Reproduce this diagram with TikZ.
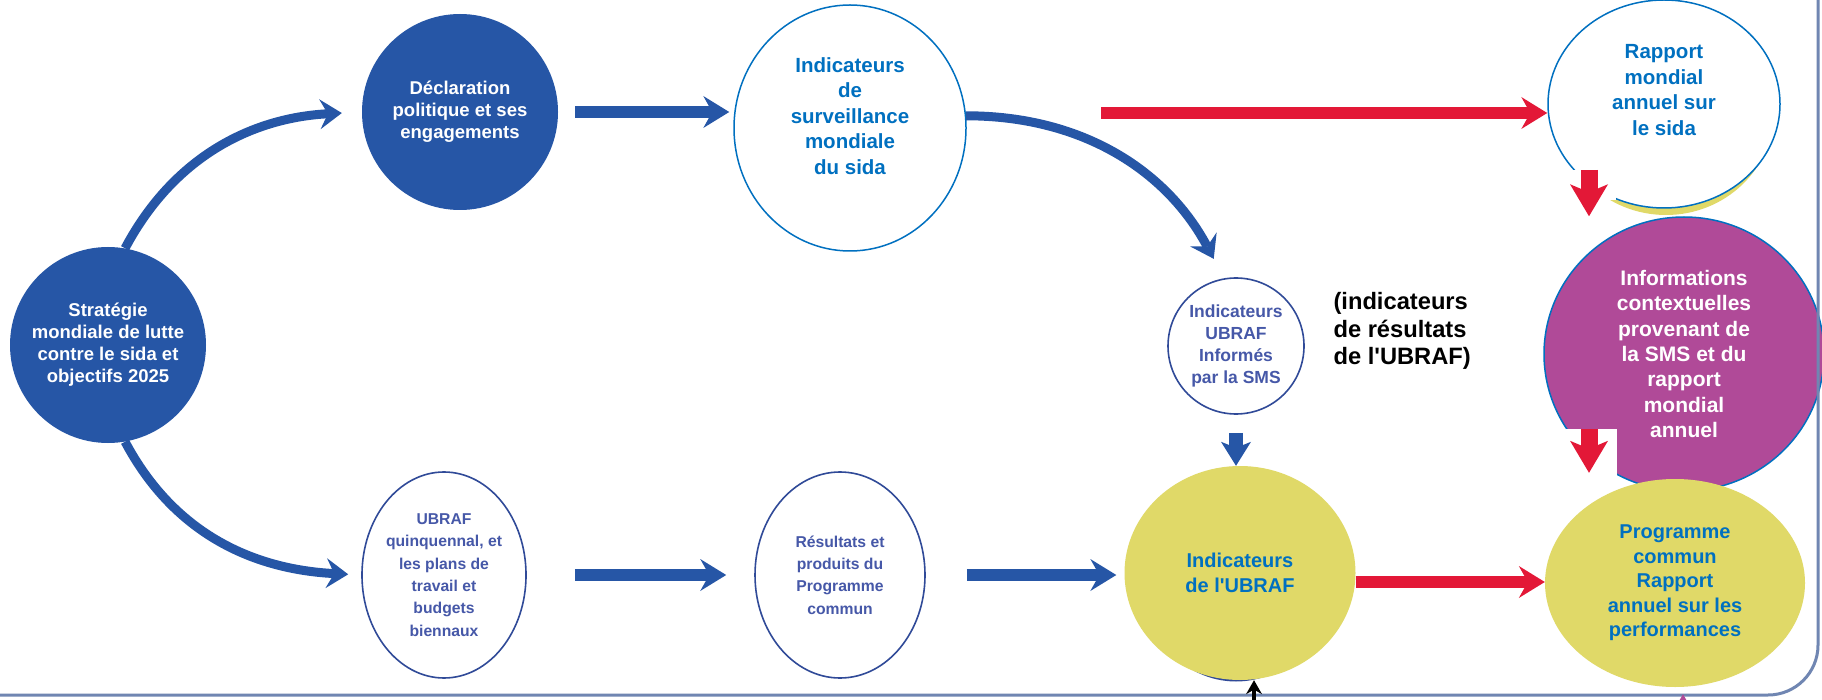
\documentclass[tikz,border=0pt]{standalone}
\usepackage{fontspec}
\setmainfont{Liberation Sans}
\usetikzlibrary{arrows.meta,calc,shapes.geometric}
\definecolor{bluscuro}{RGB}{38,86,166}
\definecolor{azzurro}{RGB}{0,112,192}
\definecolor{rosso}{RGB}{227,24,55}
\definecolor{giallo}{RGB}{224,217,104}
\definecolor{viola}{RGB}{176,74,152}
\definecolor{pervinca}{RGB}{70,88,168}
\definecolor{bordo}{RGB}{48,74,152}
\definecolor{cornice}{RGB}{112,134,178}
\tikzset{
>=Stealth,
nodo scuro/.style={circle,inner sep=0pt,minimum size=196pt,fill=bluscuro,text=white,align=center,font=\bfseries\fontsize{18.5}{22}\selectfont},
nodo vuoto/.style={ellipse,inner sep=0pt,draw=bordo,line width=1.6pt,fill=white,text=pervinca,align=center,font=\bfseries\fontsize{15.7}{22.3}\selectfont},
nodo blu/.style={ellipse,inner sep=0pt,draw=azzurro,line width=1.5pt,fill=white},
nodo giallo/.style={ellipse,inner sep=0pt,fill=giallo,text=azzurro,align=center,font=\bfseries\fontsize{20}{24.5}\selectfont},
nodo viola/.style={ellipse,inner sep=0pt,fill=viola,draw=azzurro,line width=1.5pt,text=white,align=center,font=\bfseries\fontsize{21}{25.3}\selectfont},
testo blu/.style={text=azzurro,align=center,font=\bfseries\fontsize{20.5}{25.5}\selectfont},
freccia/.style={-{Stealth[length=26pt,width=32pt,inset=9pt,line width=0pt]},line width=12pt},
curva/.style={-{Stealth[length=22pt,width=30pt,inset=8pt,line width=0pt]},line width=9pt,bluscuro},
freccia giu/.style={-{Stealth[length=24pt,width=30pt,inset=6pt,line width=0pt]},line width=14pt},
freccia rossa giu/.style={-{Stealth[length=32pt,width=38pt,inset=8pt,line width=0pt]},line width=17pt,rosso},
freccina/.style={-{Stealth[length=14pt,width=16pt,line width=0pt]},line width=4pt}}

\begin{document}
\begin{tikzpicture}[x=1pt,y=1pt]

\fill[white] (0,0) rectangle (1822,-700);
\useasboundingbox (0,0) rectangle (1822,-700);

\fill[giallo] (1666,-111) ellipse [x radius=108,y radius=104];
\fill[bordo] (1236,-574.5) ellipse [x radius=96,y radius=107];

\node[nodo scuro] (1) at (108,-345) {Stratégie\\mondiale de lutte\\contre le sida et\\objectifs 2025};
\node[nodo scuro] (2) at (460,-112) {Déclaration\\politique et ses\\engagements};
\node[nodo blu,minimum width=232pt,minimum height=246pt] (3) at (850,-128) {};
\node[nodo blu,minimum width=232pt,minimum height=208pt] (4) at (1664,-104) {};
\node[testo blu] (3t) at ([yshift=12pt]3.center) {Indicateurs\\de\\surveillance\\mondiale\\du sida};
\node[testo blu] (4t) at ([yshift=14pt]4.center) {Rapport\\mondial\\annuel sur\\le sida};
\node[nodo vuoto,circle,minimum size=136pt,font=\bfseries\fontsize{17.5}{22}\selectfont] (5) at (1236,-346) {Indicateurs\\UBRAF\\Informés\\par la SMS};
\node[nodo viola,minimum width=280pt,minimum height=274pt] (6) at (1684,-354) {Informations\\contextuelles\\provenant de\\la SMS et du\\rapport\\mondial\\annuel};
\node[nodo vuoto,minimum width=164pt,minimum height=206pt] (7) at (444,-575) {UBRAF\\quinquennal, et\\les plans de\\travail et\\budgets\\biennaux};
\node[nodo vuoto,minimum width=170pt,minimum height=206pt] (8) at (840,-575) {Résultats et\\produits du\\Programme\\commun};
\node[nodo giallo,minimum width=231pt,minimum height=214pt] (9) at (1240,-573) {Indicateurs\\de l\textquotesingle UBRAF};
\node[nodo giallo,minimum width=260pt,minimum height=208pt] (10) at (1675,-583) {Programme\\commun\\Rapport\\annuel sur les\\performances};
\node[anchor=west,align=left,font=\bfseries\fontsize{23.7}{27.5}\selectfont] (nota) at (1330,-331) {(indicateurs\\de résultats\\de l\textquotesingle UBRAF)};

\fill[white] (1570,-170) rectangle (1616,-200);
\fill[white] (1566,-429) rectangle (1617,-478);

\draw[cornice,line width=3pt,rounded corners=50pt] (1818,10) -- (1818,-695) -- (-10,-695);

\coordinate (r1) at (1101,-113);
\coordinate (r2) at (1589,-170);
\coordinate (r3) at (1589,-429);
\coordinate (n1) at (1254,-702);
\coordinate (v1) at (1683,-702);

\draw[curva,shorten >=20pt] (1.80) to[out=62,in=183] (2.west);
\draw[curva,shorten >=13pt] (1.280) to[out=-62,in=177] (7.west);
\draw[curva,shorten >=22pt] (3.6) to[out=0,in=118] (5.100);

\draw[freccia,bluscuro,shorten <=17pt,shorten >=4pt] (2.east) -- (2.east -| 3.west);
\draw[freccia,bluscuro,shorten <=48pt,shorten >=28pt] (7.east) -- (7.east -| 8.west);
\draw[freccia,bluscuro,shorten <=41pt,shorten >=8pt] (8.east) -- (8.east -| 9.west);
\draw[freccia giu,bluscuro,shorten <=18pt] (5.south) -- (5.south |- 9.north);

\draw[freccia,rosso] (r1) -- (r1 -| 4.west);
\draw[freccia,rosso] ([yshift=-9pt]9.east) -- ([yshift=-9pt]9.east -| 10.west);
\draw[freccia rossa giu] (r2) -- (r2 |- 6.north);
\draw[freccia rossa giu,shorten >=6pt] (r3) -- (r3 |- 10.north);

\draw[freccina,black] (n1) -- (n1 |- 9.south);
\draw[freccina,viola,shorten >=7pt] (v1) -- (v1 |- 10.south);

\end{tikzpicture}
\end{document}
